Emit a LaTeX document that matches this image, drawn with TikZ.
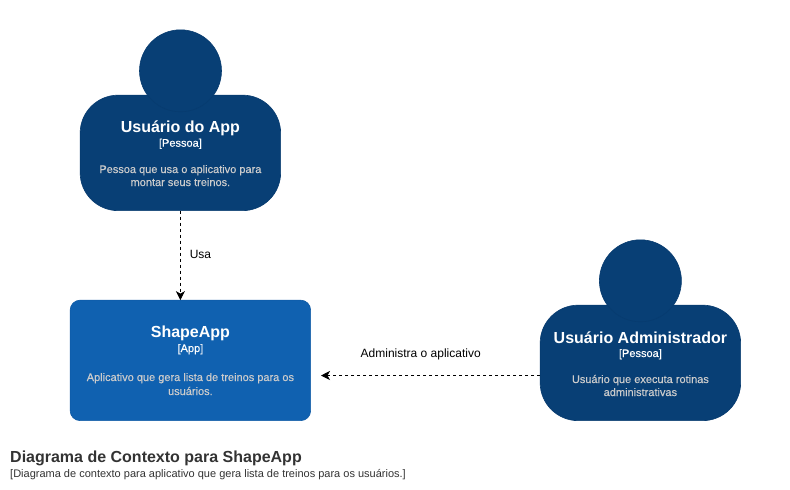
\documentclass[tikz,border=0pt]{standalone}
\usepackage{fontspec}
\setmainfont{Liberation Sans}
\newfontfamily\heavysmall[FakeBold=0.25]{Liberation Sans}
\usetikzlibrary{arrows.meta}
\definecolor{person}{HTML}{083F75}
\definecolor{personline}{HTML}{073B6F}
\definecolor{appfill}{HTML}{1061B0}
\definecolor{appline}{HTML}{0E5AA5}
\definecolor{desc}{HTML}{CCCCCC}
\definecolor{foot}{HTML}{333333}
\tikzset{
  x=1pt,y=-1pt,
  personbody/.style={draw=personline,fill=person,line width=.6pt,rounded corners=38pt,minimum width=200.5pt,minimum height=115.5pt,inner sep=0pt,outer sep=0pt},
  personhead/.style={circle,draw=personline,fill=person,line width=.6pt,minimum size=82pt,inner sep=0pt,outer sep=0pt},
  appbox/.style={draw=appline,fill=appfill,line width=.6pt,rounded corners=10pt,minimum width=240.5pt,minimum height=120.5pt,inner sep=0pt,outer sep=0pt},
  titletext/.style={anchor=base,inner sep=0pt,text=white,font=\fontsize{16}{18}\selectfont\bfseries},
  kindtext/.style={anchor=base,inner sep=0pt,text=white,font=\heavysmall\fontsize{11}{13}\selectfont},
  desctext/.style={anchor=base,inner sep=0pt,text=desc,font=\heavysmall\fontsize{11}{13}\selectfont},
  linklabel/.style={anchor=base,inner sep=0pt,text=black,font=\fontsize{12}{14}\selectfont},
  link/.style={draw=black,line width=.8pt,dash pattern=on 3pt off 3pt,-{Stealth[length=9pt,width=9pt,inset=2.5pt]}},
}
\begin{document}
\begin{tikzpicture}
\useasboundingbox (0,0) rectangle (790,490);
% Usuario do App
\node[personbody] (p1body) at (180.4,152.9) {};
\node[personhead] (p1head) at (180.5,70.8) {};
\node[titletext] (p1t) at (180.4,132.3) {Usuário do App};
\node[kindtext] (p1k) at (180.4,146.7) {[Pessoa]};
\node[desctext] (p1d1) at (180.4,173) {Pessoa que usa o aplicativo para};
\node[desctext] (p1d2) at (180.4,186) {montar seus treinos.};
% ShapeApp
\node[appbox] (app) at (190.4,360.4) {};
\node[titletext] (appt) at (190.4,337) {ShapeApp};
\node[kindtext] (appk) at (190.4,352) {[App]};
\node[desctext] (appd1) at (190.4,381) {Aplicativo que gera lista de treinos para os};
\node[desctext] (appd2) at (190.4,395) {usuários.};
% Usuario Administrador
\node[personbody] (p2body) at (640.4,362.9) {};
\node[personhead] (p2head) at (640.4,280.8) {};
\node[titletext] (p2t) at (640.4,343) {Usuário Administrador};
\node[kindtext] (p2k) at (640.4,357) {[Pessoa]};
\node[desctext] (p2d1) at (640.4,383) {Usuário que executa rotinas};
\node[desctext] (p2d2) at (640.4,396) {administrativas};
% connectors
\coordinate (adminout) at (540,375.5);
\coordinate (appin) at (321,375.5);
\draw[link] (p1body.south) -- (p1body.south |- app.north);
\draw[link] (adminout) -- (appin);
\node[linklabel] (usa) at (200.5,258.5) {Usa};
\node[linklabel] (adm) at (420.7,357) {Administra o aplicativo};
% footer
\node[anchor=base west,inner sep=0pt,text=foot,font=\fontsize{16}{18}\selectfont\bfseries] (ft) at (10,462.7) {Diagrama de Contexto para ShapeApp};
\node[anchor=base west,inner sep=0pt,text=foot,font=\fontsize{11}{13}\selectfont] (fs) at (10,477) {[Diagrama de contexto para aplicativo que gera lista de treinos para os usuários.]};
\end{tikzpicture}
\end{document}
